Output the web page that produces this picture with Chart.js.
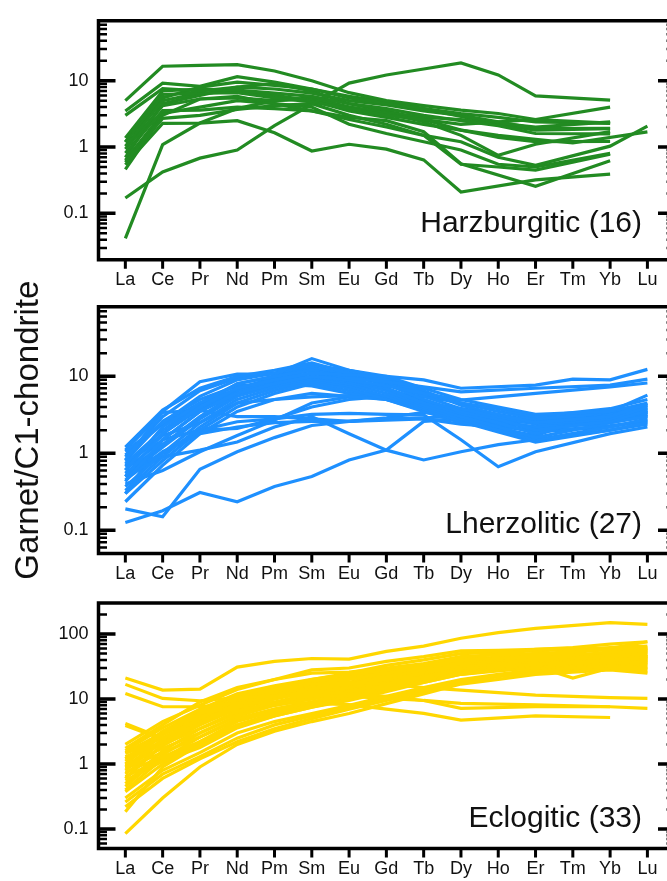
<!DOCTYPE html>
<html><head><meta charset="utf-8">
<script src="https://cdn.jsdelivr.net/npm/chart.js@4.4.1/dist/chart.umd.min.js"></script>
<style>
html,body{margin:0;padding:0;background:#fff;overflow:hidden;width:667px;height:881px;position:relative;}
canvas{position:absolute;left:0;top:0;}
</style></head><body>
<canvas id="c1" width="700" height="881"></canvas>
<canvas id="c2" width="700" height="881"></canvas>
<canvas id="c3" width="700" height="881"></canvas>
<script>
// ---------- DATA ----------
const ELEMENTS = ['La','Ce','Pr','Nd','Pm','Sm','Eu','Gd','Tb','Dy','Ho','Er','Tm','Yb','Lu'];
const _ = null;

// Harzburgitic garnets (16)
const HARZBURGITIC = [
  [5.0, 16.5, 17, 17.5, 14, 10, 6.6, 5.0, 4.2, 3.6, 3.2, 2.6, _, 2.3, _],
  [0.17, 0.42, 0.68, 0.9, 2.1, 4.4, 9.2, 12.2, 15, 18.5, 12.2, 5.9, _, 5.1, _],
  [3.5, 9.2, 8.2, 11.5, 9.5, 7.5, 5.5, 4.6, 3.8, 3.2, 2.8, 2.4, _, 2.27, _],
  [3.0, 7.6, 7.0, 8.0, 7.5, 6.5, 5.0, 4.3, 3.5, 3.0, 2.4, 1.9, _, 1.92, _],
  [1.37, 7.0, 7.5, 7.2, 6.5, 5.8, 4.5, 3.8, 3.0, 2.5, 2.1, 1.6, _, 1.58, _],
  [1.18, 6.2, 6.5, 6.6, 5.5, 4.8, 3.8, 3.0, 2.6, 2.2, 2.4, 2.6, _, 4.0, _],
  [1.03, 5.0, 6.5, 6.8, 6.0, 5.0, 3.5, 2.8, 2.2, 1.8, 1.4, 1.2, _, 1.22, _],
  [0.93, 4.2, 5.3, 5.5, 5.0, 5.5, 4.0, 3.2, 2.4, 1.5, 0.75, 1.1, _, 1.71, _],
  [0.81, 3.55, 3.6, 4.0, 3.8, 3.5, 2.6, 2.0, 1.5, 1.2, 0.7, 0.53, _, 1.03, 2.07],
  [0.59, 2.7, 3.0, 3.7, 4.2, 4.5, 3.0, 2.2, 1.5, 0.55, 0.5, 0.45, _, 0.78, _],
  [0.54, 2.27, 2.3, 2.5, 1.64, 0.87, 1.1, 0.93, 0.64, 0.21, _, 0.32, _, 0.39, _],
  [0.46, 3.0, 5.3, 5.8, 4.5, 3.5, 2.8, 2.5, 1.7, 0.56, _, 0.255, _, 0.62, _],
  [0.042, 1.09, 2.3, 3.8, 5.0, 5.3, 4.0, 3.3, 2.8, 2.6, 2.3, 2.0, _, 2.4, _],
  [0.7, 4.5, 6.0, 8.0, 9.0, 7.0, 4.5, 3.5, 2.6, 1.8, 1.5, 1.3, 1.15, _, 1.69],
  [1.2, 5.5, 8.0, 9.5, 8.5, 7.5, 5.8, 4.8, 3.8, 2.9, 2.2, 1.8, _, 1.9, _],
  [0.63, 3.2, 4.0, 5.0, 4.5, 4.0, 2.2, 1.6, 1.2, 0.9, 0.55, 0.5, _, 0.8, _]
];

// Lherzolitic garnets (27)
const LHERZOLITIC = [
  [0.5, 1.8, 4.0, 7.0, 9.0, 11, 10.4, 10, 9.0, 7.0, _, 7.7, 9.2, 9.0, 12.3],
  [0.6, 2.2, 4.5, 8.0, 10.0, 12, 9.5, 8.5, 7.3, 6.3, _, 7.0, _, 7.7, 9.2],
  [0.43, 1.5, 3.5, 6.0, 8.0, 10, 9.0, 7.5, 6.0, 4.9, _, 6.0, _, 7.3, 8.2],
  [0.82, 3.5, 8.5, 10.7, 10.7, 17, 12, 10, 7, 5, 4, 3.2, _, 3.5, 5.7],
  [1.2, 3.65, 7.0, 10.0, 12, 15, 11, 9, 6, 4.5, 3.8, 3.0, _, 3.8, 5.0],
  [1.05, 2.5, 5.5, 9.0, 11, 14, 12, 9.5, 6.5, 4.2, 3.2, 2.5, _, 3.0, 4.4],
  [0.74, 2.0, 4.2, 8.0, 10, 13, 11, 8.5, 5.5, 3.8, 3.0, 2.4, _, 2.8, 4.0],
  [0.67, 1.8, 3.8, 7.0, 9.5, 12, 10, 8.0, 5.0, 3.5, 2.8, 2.0, _, 2.6, 3.6],
  [0.61, 1.5, 3.5, 6.5, 8.5, 11, 9.0, 7.0, 4.5, 3.3, 2.5, 1.8, _, 3.2, 3.4],
  [0.55, 1.3, 3.0, 6.0, 8.0, 10, 8.5, 6.5, 4.2, 3.0, 2.2, 1.6, _, 2.5, 3.0],
  [0.50, 1.2, 2.8, 5.5, 7.5, 9.5, 8.0, 6.0, 4.0, 2.8, 2.0, 1.5, _, 2.2, 2.8],
  [0.37, 1.0, 2.5, 5.0, 7.0, 9.0, 7.5, 5.5, 3.8, 2.6, 1.9, 1.4, _, 2.0, 2.5],
  [0.33, 0.9, 2.2, 4.5, 6.5, 8.5, 7.0, 5.0, 3.5, 2.5, 2.1, 1.7, _, 3.5, 4.5],
  [0.30, 0.8, 2.0, 4.0, 6.0, 8.0, 6.5, 5.5, 4.0, 3.0, 2.6, 2.5, _, 3.0, 3.8],
  [0.235, 0.7, 1.8, 3.5, 5.0, 6.0, 5.5, 5.0, 4.0, 3.2, 2.9, 2.8, _, 3.3, 3.2],
  [0.9, 3.0, 6.5, 9.5, 11, 13, 10, 8.0, 5.0, 3.4, 2.4, 1.9, _, 2.3, 2.6],
  [0.8, 2.6, 5.0, 7.5, 8.0, 7.5, 6.0, 5.5, 4.5, 3.6, 3.0, 2.7, _, 3.6, 4.2],
  [0.5, 0.9, 1.1, 1.4, 2.2, 3.0, 1.8, 1.1, 0.82, 1.05, 1.3, 1.5, _, 2.0, 2.4],
  [0.55, 1.0, 2.0, 2.57, 2.8, 3.2, 3.3, 3.2, 3.15, 1.5, 0.67, 1.05, _, 1.8, 2.2],
  [0.126, 0.18, 0.31, 0.235, 0.37, 0.5, 0.82, 1.1, 2.6, 2.8, 2.5, 2.2, _, 2.6, 3.0],
  [0.19, 0.15, 0.62, 1.05, 1.6, 2.3, 2.6, 2.8, 2.9, 3.0, 2.8, 2.6, _, 3.0, 3.5],
  [0.45, 1.05, 1.8, 2.2, 2.5, 2.6, 2.6, 2.7, 2.8, 2.4, 2.2, 2.0, _, 2.7, 3.2],
  [1.1, 3.4, 3.6, 3.0, 3.0, 2.8, 2.6, 2.9, 3.4, 3.0, 2.6, 2.2, _, 2.8, 3.4],
  [0.3, 1.5, 2.0, 2.1, 2.8, 4.0, 5.0, 5.5, 5.5, 4.5, 3.5, 2.8, _, 3.4, 4.2],
  [0.4, 0.6, 1.05, 1.7, 2.7, 4.5, 5.4, 5.4, 4.5, 3.8, 3.2, 2.6, _, 3.2, 3.8],
  [0.7, 1.7, 2.5, 4.5, 5.0, 5.4, 5.6, 5.0, 3.6, 2.8, 2.3, 1.9, _, 2.2, 2.7],
  [0.95, 2.4, 4.5, 6.8, 8.5, 10, 9.0, 7.0, 4.8, 3.4, 2.6, 2.1, _, 2.5, 3.1]
];

// Eclogitic garnets (33)
const ECLOGITIC = [
  [21, 13.7, 14.2, 31, 38, 42, 41, 54, 65, 86, 105, 122, _, 150, 141],
  [16.8, 10.2, 9.4, 10.5, 11, 11.5, 11, 10.2, 9.5, 7.2, _, 7.6, _, 7.6, _],
  [12.2, 7.6, 7.6, 8.6, 8.8, 8.6, 8.2, 7.0, 6.0, 4.75, _, 5.5, _, 5.2, _],
  [4.2, 2.5, 5.0, 10, 14, 17, 18, 17, 15, 13.7, _, 11.5, _, 10.5, 10.2],
  [3.9, 2.4, 4.2, 8.5, 11, 13, 12, 11, 9.5, 8.6, _, 8.1, _, 7.6, 7.2],
  [1.74, 4.0, 9.0, 15, 20, 25, 26, 30, 35, 45, 48, 50, 48, 52, 55],
  [1.6, 3.6, 7.0, 12, 16, 20, 24, 28, 33, 40, 42, 45, 44, 48, 50],
  [1.45, 2.5, 5.0, 9.5, 13, 17, 20, 25, 30, 38, 40, 44, 48, 50, 52],
  [1.3, 2.2, 4.0, 7.5, 10, 14, 17, 22, 28, 35, 38, 40, 42, 45, 48],
  [1.22, 2.0, 3.5, 6.5, 9, 12, 15, 20, 26, 32, 35, 38, 42, 46, 45],
  [1.1, 3.0, 6.0, 10, 13, 16, 18, 22, 26, 30, 32, 34, 36, 40, 42],
  [0.96, 1.74, 3.0, 5.5, 8, 10, 13, 17, 22, 28, 32, 36, 40, 44, 40],
  [0.86, 1.5, 2.6, 5.0, 7, 9, 12, 16, 21, 27, 30, 34, 38, 42, 38],
  [0.75, 1.3, 2.2, 4.5, 6.5, 8.5, 11, 15, 20, 26, 30, 33, 35, 40, 36],
  [0.64, 1.2, 2.0, 4.0, 6, 8, 10, 14, 19, 25, 28, 32, 34, 37, 34],
  [0.56, 1.1, 1.8, 3.6, 5.5, 7.5, 9.5, 13, 18, 24, 28, 30, 33, 36, 32],
  [0.50, 1.6, 3.5, 6.0, 8.5, 11, 14, 19, 25, 32, 36, 42, 45, 52, 55],
  [0.45, 1.4, 3.0, 5.5, 8, 10, 13, 18, 24, 30, 34, 40, 45, 50, 60],
  [0.40, 1.2, 2.6, 4.8, 7, 9, 12, 17, 23, 30, 35, 40, 45, 48, 45],
  [0.375, 1.0, 2.2, 4.0, 6, 8, 11, 15, 20, 26, 30, 32, 21, 30, 30],
  [0.30, 0.8, 1.5, 3.0, 4.5, 6, 8, 11, 15, 20, 24, 28, 30, 33, 30],
  [0.26, 0.7, 1.3, 2.5, 4.0, 5.5, 7.5, 10, 14, 19, 23, 27, 30, 32, 28],
  [0.22, 0.6, 1.2, 2.2, 3.5, 5.0, 7, 9.5, 13, 18, 22, 26, 28, 30, 26],
  [0.185, 0.9, 2.0, 3.8, 5.5, 7.5, 10, 14, 18, 24, 27, 30, 33, 36, 40],
  [0.085, 0.3, 0.9, 2.0, 3.2, 4.5, 6.0, 8.5, 12, 17, 20, 24, 26, 28, 25],
  [0.6, 2.0, 4.5, 8.0, 11, 15, 17, 21, 25, 30, 31, 32, 33, 35, 36],
  [1.0, 2.8, 5.5, 9.0, 12, 15, 18, 24, 30, 40, 44, 50, 52, 58, 62],
  [0.7, 1.9, 4.0, 7.0, 10, 13, 16, 22, 28, 36, 42, 48, 55, 60, 76],
  [1.2, 3.2, 6.5, 11, 15, 19, 21, 26, 32, 42, 50, 58, 62, 70, 76],
  [0.9, 2.4, 5.0, 8.5, 12, 18, 22, 28, 33, 38, 40, 42, 44, 46, 44],
  [2.0, 4.5, 8.0, 14, 20, 28, 30, 38, 45, 55, 56, 58, 60, 55, 58],
  [1.5, 3.0, 5.5, 10, 14, 20, 25, 33, 40, 50, 52, 55, 58, 62, 65],
  [0.8, 2.2, 4.5, 8.0, 11, 14, 16, 19, 23, 28, 32, 36, 38, 42, 45]
];

const PANEL_NAMES = ['Harzburgitic (16)', 'Lherzolitic (27)', 'Eclogitic (33)'];
const COLORS = ['#228B22', '#1E90FF', '#FFD700'];
const Y_RANGES = [[0.02, 80], [0.05, 80], [0.05, 300]];
const Y_LABEL = 'Garnet/C1-chondrite';

// ---------- DRAWING ----------
const FONT = "'Liberation Sans', Arial, Helvetica, sans-serif";
const CANVAS_W = 700, CANVAS_H = 881, X_AXIS_H = 40;
const AREAS = [ {top: 13, bottom: 259.7, textY: 232},
                {top: 306.8, bottom: 553.5, textY: 533},
                {top: 603, bottom: 848.6, textY: 827} ];

const framePlugin = {
  id: 'frame',
  afterDatasetsDraw(chart, args, opts) {
    const {ctx, chartArea: a, scales} = chart;
    const x = scales.x, y = scales.y;
    ctx.save();
    ctx.strokeStyle = '#000';
    ctx.lineCap = 'butt';
    ctx.lineWidth = 3.5;
    ctx.beginPath();
    ctx.moveTo(a.left, a.top); ctx.lineTo(a.right, a.top);
    ctx.lineTo(a.right, a.bottom); ctx.lineTo(a.left, a.bottom); ctx.closePath();
    ctx.stroke();
    const e0 = Math.floor(Math.log10(y.min)), e1 = Math.ceil(Math.log10(y.max));
    for (let e = e0; e <= e1; e++) {
      for (let m = 1; m <= 9; m++) {
        const v = m * Math.pow(10, e);
        if (v < y.min * 1.001 || v > y.max * 0.999) continue;
        const py = y.getPixelForValue(v);
        const len = m === 1 ? 17 : 8.5;
        ctx.lineWidth = m === 1 ? 3.5 : 2.5;
        ctx.beginPath();
        ctx.moveTo(a.left, py); ctx.lineTo(a.left + len, py);
        ctx.moveTo(a.right, py); ctx.lineTo(a.right - len, py);
        ctx.stroke();
      }
    }
    ctx.lineWidth = 3;
    ctx.beginPath();
    x.ticks.forEach(t => {
      const px = x.getPixelForValue(t.value);
      ctx.moveTo(px, a.bottom); ctx.lineTo(px, a.bottom + 9);
    });
    ctx.stroke();
    ctx.fillStyle = '#111';
    ctx.font = '30px ' + FONT;
    ctx.textAlign = 'right';
    ctx.textBaseline = 'alphabetic';
    ctx.fillText(opts.text, opts.tx, opts.ty);
    ctx.restore();
  }
};

function makePanel(id, idx, series) {
  const area = AREAS[idx];
  const datasets = series.map(s => ({
    data: s.map((v, i) => ({x: i, y: v})),
    borderColor: COLORS[idx],
    borderWidth: 3.2,
    pointRadius: 0,
    tension: 0,
    spanGaps: true,
    fill: false
  }));
  return new Chart(document.getElementById(id), {
    type: 'line',
    data: { datasets },
    options: {
      responsive: false,
      animation: false,
      events: [],
      layout: { padding: { left: 0, right: CANVAS_W - 675, top: area.top,
                           bottom: CANVAS_H - area.bottom - X_AXIS_H } },
      plugins: {
        legend: { display: false },
        tooltip: { enabled: false },
        frame: { text: PANEL_NAMES[idx], tx: 642, ty: area.textY }
      },
      scales: {
        x: {
          type: 'linear', min: -0.72, max: 14.74,
          grid: { display: false, drawTicks: false },
          border: { display: false },
          ticks: {
            autoSkip: false, maxRotation: 0, padding: 10,
            color: '#111', font: { size: 18, family: FONT },
            callback: v => (Number.isInteger(v) && ELEMENTS[v]) ? ELEMENTS[v] : ''
          },
          afterBuildTicks: s => { s.ticks = ELEMENTS.map((e, i) => ({ value: i })); },
          afterFit: s => { s.height = X_AXIS_H; }
        },
        y: {
          type: 'logarithmic', min: Y_RANGES[idx][0], max: Y_RANGES[idx][1],
          grid: { display: false, drawTicks: false },
          border: { display: false },
          ticks: {
            padding: 10, color: '#111', font: { size: 18, family: FONT },
            callback: v => String(v)
          },
          title: idx === 1 ? { display: true, text: Y_LABEL, color: '#111',
                               font: { size: 33, family: FONT }, padding: { top: 9, bottom: 0 } }
                           : { display: false },
          afterBuildTicks: s => {
            s.ticks = s.ticks.filter(t => {
              const l = Math.log10(t.value);
              return Math.abs(l - Math.round(l)) < 1e-6;
            });
          },
          afterFit: s => { s.width = 98.5; }
        }
      }
    },
    plugins: [framePlugin]
  });
}

makePanel('c1', 0, HARZBURGITIC);
makePanel('c2', 1, LHERZOLITIC);
makePanel('c3', 2, ECLOGITIC);
</script>
</body></html>
